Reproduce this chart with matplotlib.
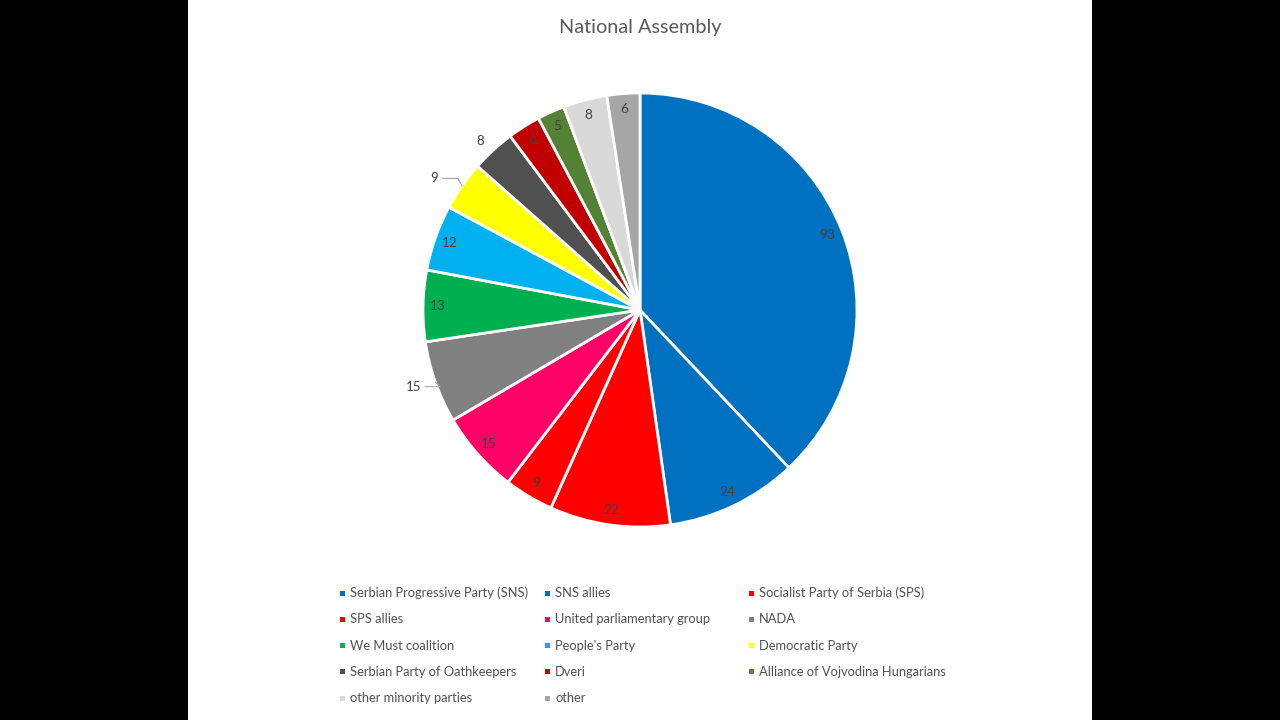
import numpy as np
import matplotlib.pyplot as plt
from matplotlib.patches import Rectangle

parties = ["Serbian Progressive Party (SNS)", "SNS allies", "Socialist Party of Serbia (SPS)",
           "SPS allies", "United parliamentary group", "NADA",
           "We Must coalition", "People's Party", "Democratic Party",
           "Serbian Party of Oathkeepers", "Dveri", "Alliance of Vojvodina Hungarians",
           "other minority parties", "other"]
seats = [93, 24, 22, 9, 15, 15, 13, 12, 9, 8, 6, 5, 8, 6]
colors = ["#0070C0", "#0070C0", "#FF0000", "#FF0000", "#FF0066", "#808080",
          "#00B050", "#00B0F0", "#FFFF00", "#505050", "#C00000", "#548235",
          "#D9D9D9", "#A6A6A6"]
# slices whose labels sit outside the pie (extra horizontal shift)
outside = {5: 0.03, 8: -0.02, 9: 0.04}

plt.rcParams['font.family'] = ['Lato', 'DejaVu Sans']
W, H = 1280, 720
fig = plt.figure(figsize=(12.8, 7.2), dpi=100, facecolor='black')
fig.patches.append(Rectangle((188 / W, 0), (1092 - 188) / W, 1, transform=fig.transFigure,
                             facecolor='white', edgecolor='none', zorder=-10))

cx, cy, r = 640, 310, 217
ax = fig.add_axes([(cx - r) / W, (H - cy - r) / H, 2 * r / W, 2 * r / H], zorder=5)
ax.set_facecolor('none')

wedges, _ = ax.pie(seats, colors=colors, startangle=90, counterclock=False, radius=1,
                   wedgeprops=dict(edgecolor='white', linewidth=2))
ax.set_xlim(-1, 1)
ax.set_ylim(-1, 1)
ax.set_aspect('equal')
ax.axis('off')

for i, (w, v) in enumerate(zip(wedges, seats)):
    ang = np.deg2rad((w.theta1 + w.theta2) / 2)
    ca, sa = np.cos(ang), np.sin(ang)
    if i in outside:
        tx = 1.06 * ca + outside[i] - 0.04
        ty = 1.06 * sa
        if i != 9:
            ax.plot([ca, tx + 0.09, tx + 0.02], [sa, ty, ty], color='#A6A6A6', lw=0.8,
                    clip_on=False)
        ax.text(tx, ty, str(v), ha='right', va='center', fontsize=9.5, color='#404040')
    else:
        ax.text(0.93 * ca, 0.93 * sa, str(v), ha='center', va='center', fontsize=9.8,
                color='#404040')

fig.text(cx / W, 1 - 27 / H, "National Assembly", ha='center', va='center',
         fontsize=14.3, color='#595959')

col_x = [340, 545, 749]
row_y0, row_dy = 593, 26.3
for i, (name, c) in enumerate(zip(parties, colors)):
    col, row = i % 3, i // 3
    x = col_x[col]
    y = row_y0 + row * row_dy
    fig.patches.append(Rectangle((x / W, (H - y - 2.5) / H), 5 / W, 5 / H,
                                 transform=fig.transFigure, facecolor=c, edgecolor='none'))
    fig.text((x + 10) / W, 1 - y / H, name, ha='left', va='center', fontsize=9.3,
             color='#505050')

fig.savefig('out.png', dpi=100, facecolor='black')
